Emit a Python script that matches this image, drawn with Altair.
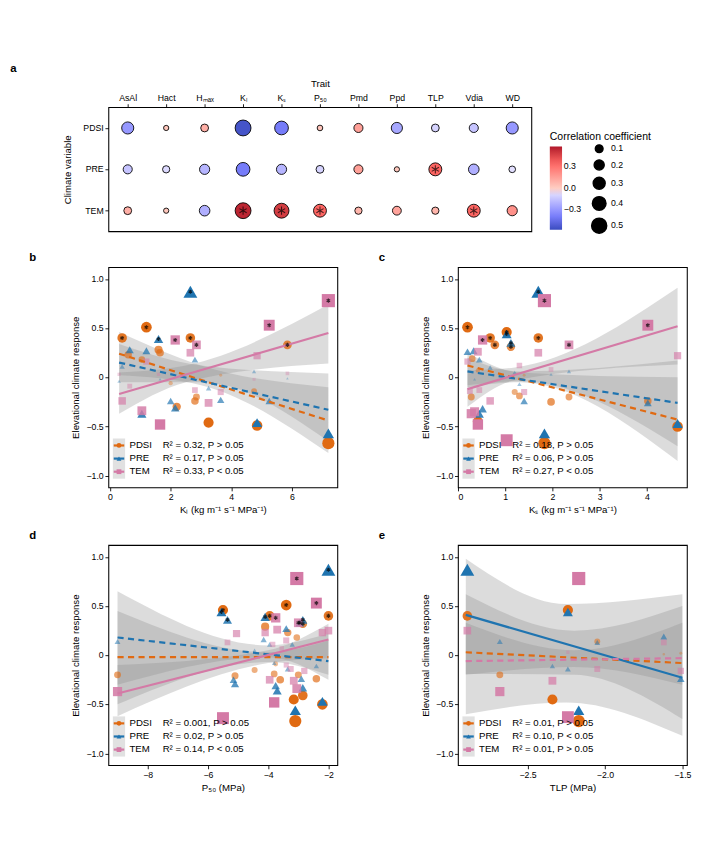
import altair as alt
import pandas as pd

FONT = "Liberation Sans"

# ---- panel a: correlation matrix ----
TRAITS = ["AsAl", "Hact", "Hₘₐₓ", "Kₗ", "Kₛ", "P₅₀", "Pmd", "Ppd", "TLP", "Vdia", "WD"]
CLIMATE = ["PDSI", "PRE", "TEM"]
R_PDSI = [-0.30, 0.02, 0.10, -0.55, -0.40, 0.03, 0.15, -0.25, -0.10, -0.15, -0.30]
R_PRE = [-0.15, -0.08, -0.20, -0.40, -0.20, -0.10, 0.15, 0.02, 0.35, -0.22, -0.06]
R_TEM = [0.10, 0.02, -0.22, 0.55, 0.48, 0.35, 0.08, 0.14, 0.08, 0.35, 0.20]
SIG_PRE = ["TLP"]
SIG_TEM = ["Kₗ", "Kₛ", "P₅₀", "Vdia"]

# ---- scatter panels: (x, y, significant) ----
B_PDSI = [(0.4, 0.40, 1), (0.6, 0.23, 0), (1.05, 0.18, 0), (1.2, 0.51, 1), (1.6, 0.28, 0), (1.65, 0.25, 0),
          (2.0, -0.06, 0), (2.2, -0.30, 0), (2.65, 0.40, 1), (2.8, -0.24, 0), (2.85, -0.20, 0), (3.25, -0.46, 0),
          (3.65, 0.02, 0), (4.75, -0.14, 0), (4.85, -0.49, 0), (5.85, 0.33, 1), (7.2, -0.67, 0)]
B_PRE = [(0.3, -0.04, 0), (0.4, 0.11, 0), (0.65, 0.28, 0), (1.05, -0.37, 0), (1.2, 0.27, 0), (1.6, 0.39, 1),
         (1.65, -0.02, 0), (2.0, -0.24, 0), (2.15, -0.31, 0), (2.65, 0.87, 1), (2.8, 0.18, 0), (3.25, -0.11, 0),
         (3.65, -0.23, 0), (4.75, 0.06, 0), (4.85, -0.46, 0), (5.25, -0.24, 0), (5.85, -0.01, 0), (7.2, -0.57, 0)]
B_TEM = [(0.3, 0.03, 0), (0.4, -0.24, 0), (0.65, -0.09, 0), (1.05, -0.34, 0), (1.2, 0.16, 0), (1.6, 0.03, 0),
         (1.65, -0.48, 0), (2.15, 0.38, 1), (2.65, 0.25, 0), (2.8, -0.13, 0), (2.85, 0.33, 1), (3.25, -0.26, 0),
         (3.65, -0.15, 0), (4.75, -0.02, 0), (4.85, 0.22, 0), (5.25, 0.53, 1), (5.85, 0.04, 0), (7.2, 0.78, 1)]

C_PDSI = [(0.2, 0.51, 1), (0.3, 0.19, 0), (0.28, -0.20, 0), (0.42, 0.07, 0), (0.68, 0.40, 1), (0.78, 0.33, 1),
          (1.03, 0.46, 1), (1.12, 0.31, 1), (1.2, -0.15, 0), (1.3, -0.19, 0), (1.4, 0.02, 0), (1.7, 0.40, 1),
          (1.83, -0.67, 0), (1.97, -0.25, 0), (2.35, -0.20, 0), (4.02, -0.24, 0), (4.65, -0.50, 0), (0.42, -0.45, 0)]
C_PRE = [(0.2, 0.26, 0), (0.33, 0.27, 0), (0.45, 0.18, 0), (0.35, -0.02, 0), (0.68, 0.10, 0), (1.03, 0.44, 1),
         (1.12, 0.35, 1), (1.2, 0.05, 0), (1.3, -0.07, 0), (1.4, -0.24, 0), (1.7, 0.87, 1), (1.83, -0.57, 0),
         (1.97, 0.03, 0), (2.35, 0.06, 0), (4.02, -0.26, 0), (4.65, -0.47, 0), (0.45, -0.37, 0), (0.52, -0.32, 0)]
C_TEM = [(0.2, 0.16, 0), (0.25, -0.14, 0), (0.28, -0.37, 0), (0.35, -0.35, 0), (0.42, 0.26, 0), (0.45, -0.13, 0),
         (0.52, 0.38, 1), (0.68, -0.24, 0), (1.03, -0.64, 0), (1.3, 0.12, 0), (1.4, -0.15, 0), (1.7, 0.25, 0),
         (1.83, 0.78, 1), (1.97, 0.08, 0), (2.35, 0.33, 1), (4.02, 0.53, 1), (4.65, 0.22, 0), (0.42, -0.48, 0)]

D_PDSI = [(-9, -0.2, 0), (-5.5, 0.46, 1), (-5.1, -0.21, 0), (-4.45, -0.15, 0), (-4.1, 0.29, 0), (-3.95, 0.40, 1),
          (-3.8, -0.19, 0), (-3.75, -0.09, 0), (-3.6, -0.25, 0), (-3.4, 0.51, 1), (-3.35, 0.23, 0), (-3.15, -0.45, 0),
          (-3.1, -0.67, 0), (-3.05, 0.18, 0), (-3.0, -0.2, 0), (-2.85, -0.41, 0), (-2.85, 0.32, 1), (-2.4, -0.24, 0),
          (-2.2, -0.50, 0), (-2.0, 0.40, 1)]
D_PRE = [(-9, 0.14, 0), (-5.55, 0.44, 1), (-5.35, 0.36, 1), (-5.15, -0.25, 0), (-5.1, -0.29, 0), (-4.45, 0.05, 0),
         (-4.15, 0.16, 0), (-4.1, 0.39, 1), (-3.95, 0.11, 0), (-3.8, -0.08, 0), (-3.75, -0.31, 0), (-3.7, -0.36, 0),
         (-3.4, 0.27, 0), (-3.35, -0.14, 0), (-3.2, 0.11, 0), (-3.1, -0.56, 0), (-2.95, 0.33, 1), (-2.9, -0.24, 0),
         (-2.85, -0.33, 0), (-2.85, 0.36, 1), (-2.4, -0.11, 0), (-2.2, -0.47, 0), (-2.0, 0.87, 1)]
D_TEM = [(-9, -0.37, 0), (-5.5, -0.64, 0), (-5.35, 0.13, 0), (-5.05, 0.22, 0), (-4.1, 0.23, 0), (-3.95, -0.25, 0),
         (-3.85, 0.11, 0), (-3.75, 0.38, 1), (-3.7, 0.26, 0), (-3.8, -0.48, 0), (-3.55, 0.07, 0), (-3.4, 0.15, 0),
         (-3.4, -0.1, 0), (-3.25, -0.14, 0), (-3.15, -0.26, 0), (-3.05, -0.34, 0), (-3.05, 0.78, 1), (-3.0, 0.33, 1),
         (-2.8, -0.16, 0), (-2.4, 0.53, 1), (-2.2, 0.23, 0), (-2.0, 0.25, 0)]

E_PDSI = [(-2.89, 0.40, 0), (-2.68, -0.2, 0), (-2.34, -0.45, 0), (-2.24, 0.46, 0), (-2.17, -0.67, 0),
          (-2.05, 0.14, 0), (-1.62, 0.01, 0), (-1.51, 0.02, 0)]
E_PRE = [(-2.89, 0.87, 0), (-2.68, 0.14, 0), (-2.34, -0.11, 0), (-2.24, 0.44, 0), (-2.24, -0.14, 0),
         (-2.17, -0.56, 0), (-2.05, 0.13, 0), (-1.62, 0.19, 0), (-1.51, -0.24, 0)]
E_TEM = [(-2.89, 0.25, 0), (-2.68, -0.37, 0), (-2.34, -0.26, 0), (-2.24, 0.03, 0), (-2.24, -0.63, 0),
         (-2.17, 0.78, 0), (-2.05, -0.14, 0), (-1.62, 0.13, 0), (-1.51, -0.16, 0)]

# fitted lines: (x0, y0, x1, y1)
B_FIT = {"PDSI": (0.3, 0.24, 7.2, -0.44), "PRE": (0.3, 0.15, 7.2, -0.33), "TEM": (0.3, -0.17, 7.2, 0.45)}
C_FIT = {"PDSI": (0.2, 0.12, 4.65, -0.43), "PRE": (0.2, 0.06, 4.65, -0.26), "TEM": (0.2, -0.12, 4.65, 0.52)}
D_FIT = {"PDSI": (-9, -0.02, -2, -0.02), "PRE": (-9, 0.18, -2, -0.06), "TEM": (-9, -0.39, -2, 0.16)}
E_FIT = {"PDSI": (-2.9, 0.03, -1.5, -0.08), "PRE": (-2.9, 0.41, -1.5, -0.23), "TEM": (-2.9, -0.06, -1.5, -0.03)}

# confidence bands: list of (x, lo, hi)
B_BAND = {"PDSI": [(0.3, 0.02, 0.46), (3.0, -0.08, 0.12), (7.2, -0.77, -0.1)],
          "PRE": [(0.3, -0.05, 0.34), (3.0, -0.05, 0.12), (7.2, -0.65, 0.04)],
          "TEM": [(0.3, -0.37, 0.05), (2.5, -0.05, 0.12), (7.2, 0.14, 0.74)]}
C_BAND = {"PDSI": [(0.2, -0.1, 0.25), (1.3, -0.05, 0.05), (4.65, -0.85, 0.0)],
          "PRE": [(0.2, -0.08, 0.2), (1.3, -0.04, 0.06), (4.65, -0.7, 0.17)],
          "TEM": [(0.2, -0.3, 0.07), (1.2, -0.03, 0.1), (4.65, 0.13, 0.91)]}
D_BAND = {"PDSI": [(-9, -0.5, 0.45), (-4, -0.07, 0.03), (-2, -0.2, 0.15)],
          "PRE": [(-9, -0.3, 0.65), (-4, -0.02, 0.1), (-2, -0.25, 0.22)],
          "TEM": [(-9, -0.62, -0.1), (-4, -0.08, 0.05), (-2, -0.03, 0.32)]}
E_BAND = {"PDSI": [(-2.9, -0.19, 0.62), (-2.2, -0.2, 0.25), (-1.5, -0.65, 0.5)],
          "PRE": [(-2.9, -0.6, 0.98), (-2.25, -0.48, 0.52), (-1.5, -0.82, 0.62)],
          "TEM": [(-2.9, -0.2, 0.33), (-2.2, -0.12, 0.05), (-1.5, -0.3, 0.33)]}

COLORS = {"PDSI": "#e06a12", "PRE": "#1f74b0", "TEM": "#d47aa6"}
SHAPES = {"PDSI": "circle", "PRE": "triangle-up", "TEM": "square"}
ASTERISK = "M0,-1L0,1M-0.87,-0.5L0.87,0.5M-0.87,0.5L0.87,-0.5"

# ---- panel a ----
rows = []
for clim, vals in zip(CLIMATE, [R_PDSI, R_PRE, R_TEM]):
    for t, v in zip(TRAITS, vals):
        sig = (clim == "PRE" and t in SIG_PRE) or (clim == "TEM" and t in SIG_TEM)
        rows.append({"trait": t, "clim": clim, "r": v, "a": abs(v), "sig": sig})
adf = pd.DataFrame(rows)

base_a = alt.Chart(adf).encode(
    x=alt.X("trait:N", sort=TRAITS, title="Trait",
            axis=alt.Axis(orient="top", labelAngle=0, domain=False, titlePadding=6)),
    y=alt.Y("clim:N", sort=CLIMATE, title="Climate variable", axis=alt.Axis(domain=False, titlePadding=12)),
)
dots = base_a.mark_circle(stroke="black", strokeWidth=1, opacity=1).encode(
    size=alt.Size("a:Q", scale=alt.Scale(domain=[0, 0.55], range=[25, 330]),
                  legend=alt.Legend(title="", orient="none", legendX=552, legendY=42,
                                    values=[0.1, 0.2, 0.3, 0.4, 0.5], symbolFillColor="black",
                                    symbolStrokeColor="black", labelFontSize=10)),
    color=alt.Color("r:Q", scale=alt.Scale(domain=[-0.58, 0, 0.58], range=["#3a4cc0", "#ffffff", "#b2182b"]),
                    legend=alt.Legend(title="Correlation coefficient", orient="none", legendX=505,
                                      legendY=28, values=[-0.3, 0, 0.3], gradientLength=95,
                                      gradientThickness=14, labelFontSize=10, titleFontSize=12,
                                      titleFontWeight="normal", titleLimit=200)),
)
stars = base_a.transform_filter("datum.sig").mark_point(
    shape=ASTERISK, size=90, color="black", strokeWidth=1.2, filled=False)
panel_a = (dots + stars).properties(
    width=484, height=142,
    title=alt.TitleParams("a", anchor="start", fontSize=13, fontWeight="bold", dx=-60),
)


def scatter(letter, pts, fits, bands, dashed, labels, xtitle, xdom, xticks, xfmt, top):
    ax = alt.X("x:Q", title=xtitle, scale=alt.Scale(domain=xdom, nice=False),
               axis=alt.Axis(values=xticks, format=xfmt, grid=False))
    ay = alt.Y("y:Q", title="Elevational climate response", scale=alt.Scale(domain=[-1.12, 1.12], nice=False),
               axis=alt.Axis(values=[-1, -0.5, 0, 0.5, 1], grid=False, titlePadding=6,
                             labelExpr="datum.value == 0 ? '0' : format(datum.value, '.1f')"))
    layers = []
    for s in CLIMATE:
        bdf = pd.DataFrame(bands[s], columns=["x", "lo", "hi"])
        layers.append(alt.Chart(bdf).mark_area(color="#8c8c8c", opacity=0.3, interpolate="monotone").encode(
            x=ax, y=alt.Y("lo:Q", scale=alt.Scale(domain=[-1.12, 1.12], nice=False)), y2="hi:Q"))
    for s in CLIMATE:
        pdf = pd.DataFrame(pts[s], columns=["x", "y", "sig"])
        pdf["a"] = pdf["y"].abs()
        layers.append(alt.Chart(pdf).mark_point(shape=SHAPES[s], filled=True, color=COLORS[s], strokeWidth=0).encode(
            x=ax, y=ay,
            size=alt.Size("a:Q", scale=alt.Scale(domain=[0, 0.9], range=[6, 260]), legend=None),
            opacity=alt.Opacity("a:Q", scale=alt.Scale(domain=[0, 0.45], range=[0.3, 1], clamp=True), legend=None)))
    for s in CLIMATE:
        x0, y0, x1, y1 = fits[s]
        ldf = pd.DataFrame({"x": [x0, x1], "y": [y0, y1]})
        kw = {"strokeDash": [7, 5]} if s in dashed else {}
        layers.append(alt.Chart(ldf).mark_line(color=COLORS[s], strokeWidth=2.5, **kw).encode(x=ax, y=ay))
    for s in CLIMATE:
        sdf = pd.DataFrame(pts[s], columns=["x", "y", "sig"])
        sdf = sdf[sdf["sig"] == 1]
        if len(sdf):
            layers.append(alt.Chart(sdf).mark_point(shape=ASTERISK, size=22, color="black", strokeWidth=1.3,
                                                    filled=False).encode(x=ax, y=ay))
    # legend box
    layers.append(alt.Chart(pd.DataFrame({"v": [0]})).mark_rect(color="#d9d9d9", opacity=0.8).encode(
        x=alt.value(5), x2=alt.value(19), y=alt.value(top - 8), y2=alt.value(top + 38)))
    for i, s in enumerate(CLIMATE):
        yy = top + i * 15
        layers.append(alt.Chart(pd.DataFrame({"v": [0]})).mark_rule(color=COLORS[s], strokeWidth=2.5).encode(
            x=alt.value(6), x2=alt.value(18), y=alt.value(yy)))
        layers.append(alt.Chart(pd.DataFrame({"v": [0]})).mark_point(
            shape=SHAPES[s], filled=True, color=COLORS[s], size=30, opacity=1).encode(x=alt.value(12), y=alt.value(yy)))
        layers.append(alt.Chart(pd.DataFrame({"t": [s]})).mark_text(align="left", fontSize=11).encode(
            text="t:N", x=alt.value(24), y=alt.value(yy)))
        layers.append(alt.Chart(pd.DataFrame({"t": [labels[i]]})).mark_text(align="left", fontSize=11).encode(
            text="t:N", x=alt.value(62), y=alt.value(yy)))
    return alt.layer(*layers).properties(
        width=262, height=252,
        title=alt.TitleParams(letter, anchor="start", fontSize=13, fontWeight="bold", dx=-48),
    )


panel_b = scatter("b", {"PDSI": B_PDSI, "PRE": B_PRE, "TEM": B_TEM}, B_FIT, B_BAND, ["PDSI", "PRE"],
                  ["R² = 0.32, P > 0.05", "R² = 0.17, P > 0.05", "R² = 0.33, P < 0.05"],
                  "Kₗ (kg m⁻¹ s⁻¹ MPa⁻¹)", [-0.05, 7.5], [0, 2, 4, 6], "d", 204)
panel_c = scatter("c", {"PDSI": C_PDSI, "PRE": C_PRE, "TEM": C_TEM}, C_FIT, C_BAND, ["PDSI", "PRE"],
                  ["R² = 0.18, P > 0.05", "R² = 0.06, P > 0.05", "R² = 0.27, P < 0.05"],
                  "Kₛ (kg m⁻¹ s⁻¹ MPa⁻¹)", [0, 4.85], [0, 1, 2, 3, 4], "d", 204)
panel_d = scatter("d", {"PDSI": D_PDSI, "PRE": D_PRE, "TEM": D_TEM}, D_FIT, D_BAND, ["PDSI", "PRE"],
                  ["R² = 0.001, P > 0.05", "R² = 0.02, P > 0.05", "R² = 0.14, P < 0.05"],
                  "P₅₀ (MPa)", [-9.3, -1.7], [-8, -6, -4, -2], "d", 204)
panel_e = scatter("e", {"PDSI": E_PDSI, "PRE": E_PRE, "TEM": E_TEM}, E_FIT, E_BAND, ["PDSI", "TEM"],
                  ["R² = 0.01, P > 0.05", "R² = 0.10, P < 0.05", "R² = 0.01, P > 0.05"],
                  "TLP (MPa)", [-2.95, -1.47], [-2.5, -2.0, -1.5], ".1f", 204)

chart = alt.vconcat(
    panel_a,
    alt.hconcat(panel_b, panel_c, spacing=45),
    alt.hconcat(panel_d, panel_e, spacing=45),
    spacing=16,
).resolve_scale(size="independent", color="independent").configure(
    font=FONT, padding=2,
).configure_view(
    stroke="black", strokeWidth=1.2,
).configure_axis(
    domain=False, tickColor="black", labelColor="black", titleColor="black",
    labelFontSize=10, titleFontSize=11, titleFontWeight="normal", tickSize=4,
).configure_title(font=FONT, offset=4)

chart.save("out.html", embed_options={"renderer": "svg", "actions": False})
